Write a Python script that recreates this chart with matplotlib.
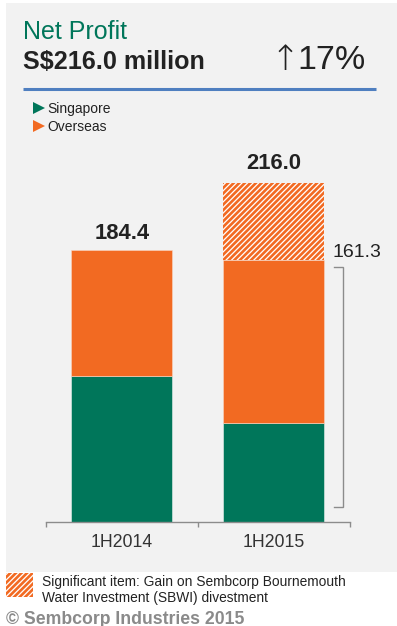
import matplotlib
matplotlib.use("Agg")
import matplotlib.pyplot as plt
from matplotlib.patches import Rectangle
from matplotlib.lines import Line2D

plt.rcParams['font.family'] = ['Liberation Sans', 'DejaVu Sans']
plt.rcParams['hatch.linewidth'] = 1.9

# ---------------- data ----------------
categories = ["1H2014", "1H2015"]
singapore = [99.1, 67.2]
overseas = [85.3, 110.4]
significant = [0.0, 52.1]         # SBWI divestment gain (hatched)
total_labels = ["184.4", "216.0"]
underlying_label = "161.3"
headline = "S$216.0 million"
growth = "17%"

GREEN = "#00765A"
ORANGE = "#F26A22"
GRAY = "#8C8C8C"
TXT = "#222222"
HATCH = "//////"

W, H = 397, 626
fig = plt.figure(figsize=(W / 100, H / 100), dpi=100, facecolor="white")


def fx(x):
    return x / W


def fy(y):
    return 1 - y / H


# panel background
fig.patches.append(Rectangle((fx(6), fy(571.7)), 1 - fx(6), fy(3) - fy(571.7),
                             transform=fig.transFigure, facecolor="#F2F2F2",
                             edgecolor="none", zorder=-5))

# header
fig.text(fx(23), fy(39.3), "Net Profit", color=GREEN, fontsize=18, va="baseline", ha="left")
fig.text(fx(23), fy(69), headline, color=TXT, fontsize=18.1, weight="bold", va="baseline", ha="left")
fig.text(fx(366), fy(69), growth, color=TXT, fontsize=24.5, va="baseline", ha="right")
fig.text(fx(285), fy(70), "\u2191", color=TXT, fontsize=25, va="baseline", ha="center",
         family=["DejaVu Sans"], weight="light")
fig.add_artist(Line2D([fx(22.7), fx(376)], [fy(89.3), fy(89.3)], transform=fig.transFigure,
                      color="#4F7FC0", lw=2.2, solid_capstyle="butt"))

# legend
for yy, col, name in [(108, GREEN, "Singapore"), (125.7, ORANGE, "Overseas")]:
    fig.add_artist(Line2D([fx(38.5)], [fy(yy)], transform=fig.transFigure, marker=">",
                          markersize=9, color=col, markeredgewidth=0, linestyle="none"))
    fig.text(fx(47.7), fy(yy), name, color=TXT, fontsize=10, va="center_baseline", ha="left")

# chart axes
ax = fig.add_axes([fx(46), fy(521.7), fx(349.7) - fx(46), fy(150) - fy(521.7)])
ax.set_facecolor("none")
scale = 1.4735
ax.set_xlim(-0.5, 1.5)
ax.set_ylim(0, (521.7 - 150) / scale)

x = list(range(len(categories)))
width = 0.665
base2 = [s + o for s, o in zip(singapore, overseas)]
ax.bar(x, singapore, width, color=GREEN, edgecolor="#E8EFEC", linewidth=0.4, zorder=2)
ax.bar(x, overseas, width, bottom=singapore, color=ORANGE, edgecolor="#F8D8C6", linewidth=0.4, zorder=2)
ax.bar(x, significant, width, bottom=base2, facecolor="white", edgecolor=ORANGE,
       hatch=HATCH, linewidth=0, zorder=2)

tops = [b + s for b, s in zip(base2, significant)]
for xi, t, lab, off in zip(x, tops, total_labels, [8.0, 10.3]):
    ax.annotate(lab, (xi, t), xytext=(0, off), textcoords="offset points", ha="center",
                va="baseline", fontsize=15.8, weight="bold", color=TXT)

# underlying label and bracket for 1H2015
ax.annotate(underlying_label, (1 + width / 2, base2[1]), xytext=(5.8, 2.2),
            textcoords="offset points", ha="left", va="baseline", fontsize=14, color=TXT)
xb = -0.5 + (343 - 46) / 151.85
xl = -0.5 + (334 - 46) / 151.85
ytop = base2[1] - 7.3 / scale
ybot = 14.7 / scale
ax.plot([xl, xb, xb, xl], [ytop, ytop, ybot, ybot], color=GRAY, lw=1.0, zorder=1,
        solid_joinstyle="miter")

for s in ["top", "left", "right"]:
    ax.spines[s].set_visible(False)
ax.spines["bottom"].set_color(GRAY)
ax.spines["bottom"].set_linewidth(1.0)
ax.set_yticks([])
ax.set_xticks(x, categories)
ax.set_xticks([-0.5, 0.5, 1.5], minor=True)
ax.tick_params(axis="x", which="major", length=0, pad=9, labelsize=12.7, labelcolor="#333333")
ax.tick_params(axis="x", which="minor", length=3.8, width=1.0, color=GRAY, direction="out")

# footnote
fig.patches.append(Rectangle((fx(6), fy(597)), fx(33) - fx(6), fy(573) - fy(597),
                             transform=fig.transFigure, facecolor="white", edgecolor=ORANGE,
                             hatch=HATCH, linewidth=0, zorder=1))
fig.text(fx(41.7), fy(585.7), "Significant item: Gain on Sembcorp Bournemouth", color=TXT,
         fontsize=9.9, va="baseline", ha="left")
fig.text(fx(41.7), fy(601.7), "Water Investment (SBWI) divestment", color=TXT,
         fontsize=9.9, va="baseline", ha="left")
fig.text(fx(6), fy(624.5), "\u00a9 Sembcorp Industries 2015", color="#8A8A8A",
         fontsize=12.7, weight="bold", va="baseline", ha="left")

fig.savefig("out.png", dpi=100, facecolor="white")
